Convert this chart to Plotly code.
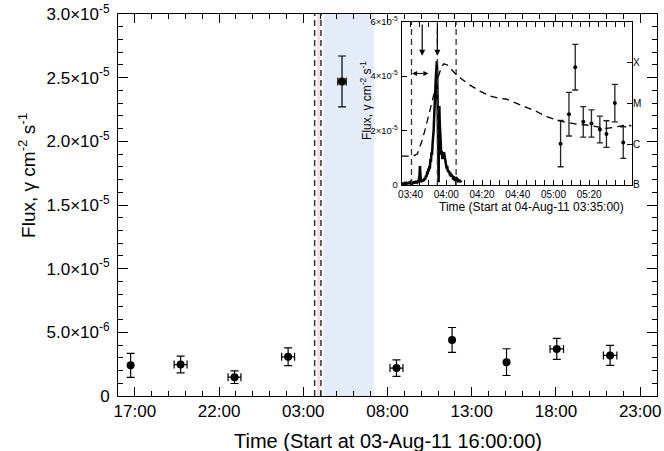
import pandas as pd
import plotly.graph_objects as go

# ---------------- data: main panel (Fermi-LAT flux) ----------------
main_start = "2011-08-03 16:00:00"
main_times = ["2011-08-03 16:45", "2011-08-03 19:43", "2011-08-03 22:55",
              "2011-08-04 02:06", "2011-08-04 05:18", "2011-08-04 08:32",
              "2011-08-04 11:50", "2011-08-04 15:04", "2011-08-04 18:03",
              "2011-08-04 21:13"]
main_flux = [2.41e-6, 2.47e-6, 1.48e-6, 3.08e-6, 2.47e-5, 2.19e-6,
             4.40e-6, 2.66e-6, 3.70e-6, 3.19e-6]
main_flux_err = [0.94e-6, 0.66e-6, 0.50e-6, 0.70e-6, 2.0e-6, 0.65e-6,
                 0.98e-6, 1.05e-6, 0.82e-6, 0.78e-6]
main_time_err_min = [0, 23, 23, 23, 15, 23, 0, 0, 24, 24]
main_tick_times = ["2011-08-03 17:00", "2011-08-03 22:00", "2011-08-04 03:00",
                   "2011-08-04 08:00", "2011-08-04 13:00", "2011-08-04 18:00",
                   "2011-08-04 23:00"]
main_tick_labels = ["17:00", "22:00", "03:00", "08:00", "13:00", "18:00", "23:00"]
main_end = "2011-08-05 00:00:00"
main_y_ticks = [0, 5e-6, 1e-5, 1.5e-5, 2e-5, 2.5e-5, 3e-5]
main_y_labels = ["0", "5.0×10<sup>-6</sup>", "1.0×10<sup>-5</sup>", "1.5×10<sup>-5</sup>",
                 "2.0×10<sup>-5</sup>", "2.5×10<sup>-5</sup>", "3.0×10<sup>-5</sup>"]

# intervals
flare_window = ["2011-08-04 03:48:30", "2011-08-04 04:01:30"]      # pink
lat_window = ["2011-08-04 04:12:00", "2011-08-04 07:12:00"]        # blue
main_dashed_times = ["2011-08-04 03:40:30", "2011-08-04 04:03:00"]
inset_dashed_times = ["2011-08-04 03:40:30", "2011-08-04 03:55:00", "2011-08-04 04:05:30"]

# ---------------- data: inset ----------------
inset_start = "2011-08-04 03:35:00"
inset_end = "2011-08-04 05:44:00"
inset_tick_times = ["2011-08-04 03:40", "2011-08-04 04:00", "2011-08-04 04:20",
                    "2011-08-04 04:40", "2011-08-04 05:00", "2011-08-04 05:20"]
inset_tick_labels = ["03:40", "04:00", "04:20", "04:40", "05:00", "05:20"]
inset_y_ticks = [0, 2e-5, 4e-5, 6e-5]
inset_y_labels = ["0", "2×10<sup>-5</sup>", "4×10<sup>-5</sup>", "6×10<sup>-5</sup>"]
goes_class_vals = [1e-7, 1e-6, 1e-5, 1e-4]
goes_class_labels = ["B", "C", "M", "X"]

lat_times = ["2011-08-04 05:04:00", "2011-08-04 05:08:42", "2011-08-04 05:12:12",
             "2011-08-04 05:16:42", "2011-08-04 05:21:18", "2011-08-04 05:26:00",
             "2011-08-04 05:29:42", "2011-08-04 05:34:24", "2011-08-04 05:39:06"]
lat_flux = [1.52e-5, 2.60e-5, 4.33e-5, 2.32e-5, 2.26e-5, 2.04e-5, 1.87e-5, 3.01e-5, 1.56e-5]
lat_flux_err = [0.85e-5, 0.80e-5, 0.84e-5, 0.56e-5, 0.50e-5, 0.49e-5, 0.49e-5, 0.69e-5, 0.58e-5]

# GOES 1-8 A flux (minutes after 03:35, W m^-2)
goes_min = [0, 6.5, 8.8, 9.9, 11.2, 13.1, 14.9, 16.8, 18.7, 20.5, 22.4, 23.7, 25.6, 28.0,
            30.8, 34.5, 38.2, 43.8, 49.4, 55.0, 58.8, 64.4, 70.0, 75.6, 81.2, 86.8, 92.4,
            97.9, 103.5, 109.1, 114.7, 118.5, 122.2, 125.9, 128.7]
goes_flux = [5.1e-7, 5.1e-7, 5.8e-7, 7.9e-7, 1.15e-6, 2.24e-6, 4.7e-6, 9.1e-6, 2.14e-5,
             4.5e-5, 8.1e-5, 9.3e-5, 8.7e-5, 6.8e-5, 4.9e-5, 3.7e-5, 2.8e-5, 2.0e-5,
             1.51e-5, 1.32e-5, 1.26e-5, 1.0e-5, 7.9e-6, 6.3e-6, 4.7e-6, 3.9e-6, 3.4e-6,
             3.1e-6, 2.95e-6, 2.7e-6, 2.45e-6, 2.57e-6, 2.75e-6, 2.95e-6, 2.8e-6]

# hard X-ray light curve (minutes after 03:35, scaled flux)
hxr_min = [0.0, 0.4, 0.8, 1.2, 1.6, 2.0, 2.4, 2.8, 3.2, 3.6, 4.0, 4.4, 4.8, 5.2, 5.6, 6.0,
           6.4, 6.8, 7.2, 7.6, 8.0, 8.4, 8.8, 9.2, 9.6, 10.0, 10.2, 10.4, 10.6, 10.8, 11.2,
           11.6, 12.0, 12.4, 12.8, 13.2, 13.6, 14.0, 14.3, 14.6, 14.9, 15.2, 15.5, 15.8,
           16.1, 16.4, 16.7, 17.0, 17.3, 17.6, 17.9, 18.2, 18.5, 18.8, 19.1, 19.4, 19.7,
           19.9, 20.1, 20.3, 20.5, 20.7, 20.9, 21.1, 21.3, 21.6, 21.9, 22.2, 22.5, 22.8,
           23.1, 23.4, 23.7, 24.0, 24.3, 24.6, 24.9, 25.2, 25.5, 25.8, 26.1, 26.4, 26.7,
           27.0, 27.3, 27.6, 27.9, 28.2, 28.5, 28.8, 29.1, 29.4, 29.7, 30.0, 30.3, 30.6,
           30.9, 31.2, 31.5, 31.8, 32.1, 32.4, 32.7, 33.0, 33.3]
hxr_flux = [0.05, 0.02, 0.08, 0.03, 0.06, 0.10, 0.04, 0.07, 0.03, 0.09, 0.05, 0.12, 0.06,
            0.04, 0.10, 0.05, 0.08, 0.13, 0.06, 0.10, 0.07, 0.15, 0.09, 0.12, 0.20, 0.35,
            0.70, 0.45, 0.15, 0.10, 0.18, 0.12, 0.20, 0.15, 0.25, 0.20, 0.35, 0.30, 0.50,
            0.40, 0.60, 0.50, 0.70, 0.60, 0.95, 0.85, 1.20, 1.10, 1.50, 1.70, 2.00, 2.50,
            2.80, 3.40, 3.90, 4.30, 4.55, 4.20, 3.40, 2.20, 0.90, 0.10, 2.50, 2.90, 2.30,
            1.90, 1.40, 1.10, 1.25, 0.95, 1.10, 1.00, 1.20, 1.05, 0.95, 0.80, 0.75, 0.60,
            0.70, 0.50, 0.55, 0.45, 0.50, 0.35, 0.45, 0.30, 0.40, 0.30, 0.35, 0.20, 0.30,
            0.25, 0.15, 0.25, 0.20, 0.30, 0.15, 0.25, 0.10, 0.20, 0.12, 0.20, 0.10, 0.15,
            0.10]
hxr_scale = 1e-5

# inset arrows
arrow_down_times = ["2011-08-04 03:46:30", "2011-08-04 03:55:00"]
arrow_span = ["2011-08-04 03:40:00", "2011-08-04 03:50:00"]

# ---------------- helpers ----------------
T0 = pd.Timestamp(main_start)
I0 = pd.Timestamp(inset_start)


def hours(t):
    return (pd.Timestamp(t) - T0).total_seconds() / 3600.0


def minutes(t):
    return (pd.Timestamp(t) - I0).total_seconds() / 60.0


BLUE = "#E4ECFA"
PINK = "#F1DFEC"
FONT = "Liberation Sans"

fig = go.Figure()

# main points
fig.add_trace(go.Scatter(
    x=[hours(t) for t in main_times], y=main_flux, mode="markers",
    marker=dict(color="black", size=8),
    error_y=dict(type="data", array=main_flux_err, color="black", thickness=1.2, width=4),
    error_x=dict(type="data", array=[m / 60 for m in main_time_err_min], color="black",
                 thickness=1.2, width=4),
    xaxis="x", yaxis="y", showlegend=False))

# inset: hard X-ray curve
fig.add_trace(go.Scatter(
    x=hxr_min, y=[v * hxr_scale for v in hxr_flux], mode="lines",
    line=dict(color="black", width=2.5), xaxis="x2", yaxis="y2", showlegend=False))

# inset: LAT points
fig.add_trace(go.Scatter(
    x=[minutes(t) for t in lat_times], y=lat_flux, mode="markers",
    marker=dict(color="black", size=4),
    error_y=dict(type="data", array=lat_flux_err, color="#222222", thickness=1.3, width=3),
    xaxis="x2", yaxis="y2", showlegend=False))

# inset: GOES curve (log, right axis)
fig.add_trace(go.Scatter(
    x=goes_min, y=goes_flux, mode="lines",
    line=dict(color="black", width=1.3, dash="7px,5px"),
    xaxis="x2", yaxis="y3", showlegend=False))

shapes = []
# main bands
shapes.append(dict(type="rect", xref="x", yref="y domain", x0=hours(lat_window[0]),
                   x1=hours(lat_window[1]), y0=0, y1=1, fillcolor=BLUE, line_width=0,
                   layer="below"))
shapes.append(dict(type="rect", xref="x", yref="y domain", x0=hours(flare_window[0]),
                   x1=hours(flare_window[1]), y0=0, y1=1, fillcolor=PINK, line_width=0,
                   layer="below"))
for t in main_dashed_times:
    shapes.append(dict(type="line", xref="x", yref="y domain", x0=hours(t), x1=hours(t),
                       y0=0, y1=1, line=dict(color="#333333", width=1.5, dash="6px,4px")))
# inset bands
shapes.append(dict(type="rect", xref="x2", yref="y2 domain", x0=minutes(lat_window[0]),
                   x1=minutes(inset_end), y0=0, y1=1, fillcolor=BLUE, line_width=0,
                   layer="below"))
shapes.append(dict(type="rect", xref="x2", yref="y2 domain", x0=minutes(flare_window[0]),
                   x1=minutes(flare_window[1]), y0=0, y1=1, fillcolor=PINK, line_width=0,
                   layer="below"))
for t in inset_dashed_times:
    shapes.append(dict(type="line", xref="x2", yref="y2 domain", x0=minutes(t), x1=minutes(t),
                       y0=0, y1=1, line=dict(color="#333333", width=1.3, dash="6px,4px")))

annotations = []
for t in arrow_down_times:
    annotations.append(dict(x=minutes(t), y=4.75e-5, ax=minutes(t), ay=5.95e-5,
                            xref="x2", yref="y2", axref="x2", ayref="y2", text="",
                            showarrow=True, arrowhead=2, arrowsize=1, arrowwidth=1.2,
                            arrowcolor="black"))
annotations.append(dict(x=minutes(arrow_span[1]), y=4.1e-5, ax=minutes(arrow_span[0]), ay=4.1e-5,
                        xref="x2", yref="y2", axref="x2", ayref="y2", text="",
                        showarrow=True, arrowhead=2, arrowside="end+start", arrowsize=1,
                        arrowwidth=1.0, arrowcolor="black"))
# titles
annotations.append(dict(text="Time (Start at 03-Aug-11 16:00:00)", xref="paper", yref="paper",
                        x=0.501, y=-0.118, showarrow=False, font=dict(size=20, color="black"),
                        xanchor="center", yanchor="middle"))
annotations.append(dict(text="Flux, γ cm<sup>-2</sup> s<sup>-1</sup>", xref="paper", yref="paper",
                        x=-0.169, y=0.5785, showarrow=False, textangle=-90,
                        font=dict(size=19, color="black"), xanchor="center", yanchor="middle"))
annotations.append(dict(text="Time (Start at 04-Aug-11 03:35:00)", xref="paper", yref="paper",
                        x=0.768, y=0.496, showarrow=False, font=dict(size=12, color="black"),
                        xanchor="center", yanchor="middle"))
annotations.append(dict(text="Flux, γ cm<sup>-2</sup> s<sup>-1</sup>", xref="paper", yref="paper",
                        x=0.460, y=0.775, showarrow=False, textangle=-90,
                        font=dict(size=12, color="black"), xanchor="center", yanchor="middle"))

axis_common = dict(showgrid=False, zeroline=False, showline=True, linecolor="black",
                   linewidth=1, ticks="inside", tickcolor="black", tickwidth=1,
                   mirror="allticks", automargin=False)

fig.update_layout(
    width=664, height=451,
    margin=dict(l=118, r=7, t=14, b=55, autoexpand=False),
    paper_bgcolor="white", plot_bgcolor="white",
    font=dict(family=FONT, color="black"),
    xaxis=dict(**axis_common, domain=[0, 1], anchor="y",
               range=[0, hours(main_end)],
               tickmode="array", tickvals=[hours(t) for t in main_tick_times],
               ticktext=main_tick_labels, ticklen=9, tickfont=dict(size=17),
               minor=dict(tickmode="linear", tick0=0, dtick=1, ticklen=5, ticks="inside",
                          tickcolor="black")),
    yaxis=dict(**axis_common, domain=[0, 1], anchor="x", range=[0, 3e-5],
               tickmode="array", tickvals=main_y_ticks, ticktext=main_y_labels,
               ticklen=10, tickfont=dict(size=17), ticklabelstandoff=4,
               minor=dict(tickmode="linear", tick0=0, dtick=1e-6, ticklen=5, ticks="inside",
                          tickcolor="black")),
    xaxis2=dict(**axis_common, domain=[0.5263, 0.9536], anchor="y2",
                range=[0, minutes(inset_end)],
                tickmode="array", tickvals=[minutes(t) for t in inset_tick_times],
                ticktext=inset_tick_labels, ticklen=5, tickfont=dict(size=10),
                ticklabelstandoff=0,
                minor=dict(tickmode="linear", tick0=0, dtick=5, ticklen=3, ticks="inside",
                           tickcolor="black")),
    yaxis2=dict(showgrid=False, zeroline=False, showline=True, linecolor="black", linewidth=1,
                ticks="inside", tickcolor="black", ticklen=5, mirror=True, automargin=False,
                domain=[0.5524, 0.9798], anchor="x2", range=[0, 6e-5],
                tickmode="array", tickvals=inset_y_ticks, ticktext=inset_y_labels,
                tickfont=dict(size=9.5), ticklabelstandoff=1),
    yaxis3=dict(showgrid=False, zeroline=False, showline=False, automargin=False,
                ticks="inside", tickcolor="black", ticklen=5,
                overlaying="y2", side="right", anchor="x2", type="log", range=[-7, -3],
                tickmode="array", tickvals=goes_class_vals, ticktext=goes_class_labels,
                tickfont=dict(size=10), ticklabelstandoff=0),
    shapes=shapes, annotations=annotations,
)

fig.write_html("out.html", config={"displayModeBar": False},
               post_script="document.body.style.margin='0';document.body.style.padding='0';")
